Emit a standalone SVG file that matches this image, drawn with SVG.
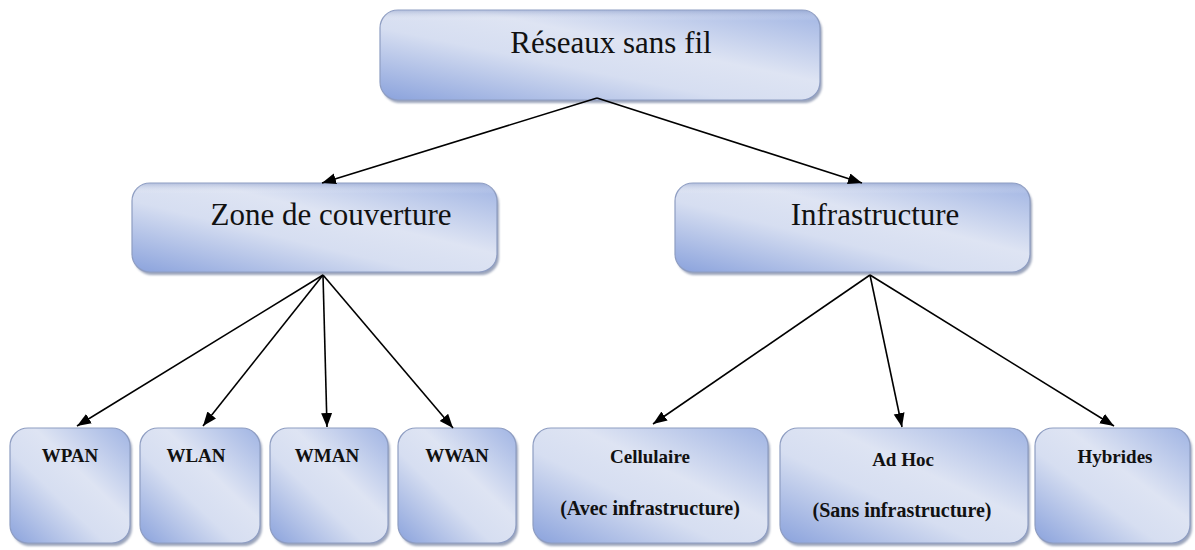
<svg xmlns="http://www.w3.org/2000/svg" width="1195" height="550" viewBox="0 0 1195 550">
  <defs>
    <linearGradient id="boxFill" x1="0" y1="1" x2="1" y2="0">
      <stop offset="0" stop-color="#8aa2dc"/>
      <stop offset="0.4" stop-color="#d6def1"/>
      <stop offset="0.6" stop-color="#dee4f3"/>
      <stop offset="1" stop-color="#a0b4e3"/>
    </linearGradient>
    <linearGradient id="topSheen" x1="0" y1="0" x2="0" y2="1">
      <stop offset="0" stop-color="#8f9fc8" stop-opacity="0.55"/>
      <stop offset="0.12" stop-color="#ffffff" stop-opacity="0"/>
      <stop offset="1" stop-color="#ffffff" stop-opacity="0"/>
    </linearGradient>
    <filter id="soft" x="-10%" y="-10%" width="120%" height="130%">
      <feGaussianBlur stdDeviation="1.3"/>
    </filter>
    <marker id="arrow" markerUnits="userSpaceOnUse" markerWidth="16" markerHeight="13" refX="14" refY="5.5" orient="auto">
      <path d="M0,0 L14,5.5 L0,11 Z" fill="#000"/>
    </marker>
    <style>
      .shadow { fill: #7c88a6; opacity: 0.75; filter: url(#soft); }
      .box { fill: url(#boxFill); stroke: #8e9dc2; stroke-width: 1.2; }
      .sheen { fill: url(#topSheen); stroke: none; }
      .big { font-family: "Liberation Serif", "Times New Roman", serif; font-size: 31px; fill: #111; text-anchor: middle; }
      .small { font-family: "Liberation Serif", "Times New Roman", serif; font-size: 19px; font-weight: bold; fill: #111; text-anchor: middle; }
      .sub { font-size: 20px; }
      .link { stroke: #000; stroke-width: 1.6; fill: none; marker-end: url(#arrow); }
    </style>
  </defs>

  <rect width="1195" height="550" fill="#fff"/>

  <!-- root -->
  <g id="reseaux">
    <rect class="shadow" x="382" y="13" width="440" height="90" rx="18"/>
    <rect class="box" x="380" y="10" width="440" height="90" rx="18"/>
    <rect class="sheen" x="380" y="10" width="440" height="90" rx="18"/>
    <text class="big" x="611" y="53">Réseaux sans fil</text>
  </g>

  <!-- second level -->
  <g id="zone">
    <rect class="shadow" x="134" y="186" width="365" height="89" rx="18"/>
    <rect class="box" x="132" y="183" width="365" height="89" rx="18"/>
    <rect class="sheen" x="132" y="183" width="365" height="89" rx="18"/>
    <text class="big" x="331" y="225">Zone de couverture</text>
  </g>
  <g id="infrastructure">
    <rect class="shadow" x="677" y="186" width="355" height="89" rx="18"/>
    <rect class="box" x="675" y="183" width="355" height="89" rx="18"/>
    <rect class="sheen" x="675" y="183" width="355" height="89" rx="18"/>
    <text class="big" x="875" y="225">Infrastructure</text>
  </g>

  <!-- coverage leaves -->
  <g id="wpan">
    <rect class="shadow" x="12" y="431" width="120" height="115" rx="18"/>
    <rect class="box" x="10" y="428" width="120" height="115" rx="18"/>
    <text class="small" x="70" y="462">WPAN</text>
  </g>
  <g id="wlan">
    <rect class="shadow" x="142" y="431" width="120" height="115" rx="18"/>
    <rect class="box" x="140" y="428" width="120" height="115" rx="18"/>
    <text class="small" x="196" y="462">WLAN</text>
  </g>
  <g id="wman">
    <rect class="shadow" x="272" y="431" width="118" height="115" rx="18"/>
    <rect class="box" x="270" y="428" width="118" height="115" rx="18"/>
    <text class="small" x="327" y="462">WMAN</text>
  </g>
  <g id="wwan">
    <rect class="shadow" x="400" y="431" width="118" height="115" rx="18"/>
    <rect class="box" x="398" y="428" width="118" height="115" rx="18"/>
    <text class="small" x="457" y="462">WWAN</text>
  </g>

  <!-- infrastructure leaves -->
  <g id="cellulaire">
    <rect class="shadow" x="535" y="431" width="235" height="115" rx="18"/>
    <rect class="box" x="533" y="428" width="235" height="115" rx="18"/>
    <text class="small" x="650" y="463">Cellulaire</text>
    <text class="small sub" x="650" y="515">(Avec infrastructure)</text>
  </g>
  <g id="adhoc">
    <rect class="shadow" x="782" y="431" width="248" height="115" rx="18"/>
    <rect class="box" x="780" y="428" width="248" height="115" rx="18"/>
    <text class="small" x="903" y="466">Ad Hoc</text>
    <text class="small sub" x="902" y="517">(Sans infrastructure)</text>
  </g>
  <g id="hybrides">
    <rect class="shadow" x="1037" y="431" width="155" height="115" rx="18"/>
    <rect class="box" x="1035" y="428" width="155" height="115" rx="18"/>
    <text class="small" x="1115" y="463">Hybrides</text>
  </g>

  <!-- connectors -->
  <g id="connectors">
    <line class="link" x1="597" y1="98" x2="322" y2="183"/>
    <line class="link" x1="597" y1="98" x2="862" y2="183"/>
    <line class="link" x1="323" y1="275" x2="77" y2="426"/>
    <line class="link" x1="323" y1="275" x2="203" y2="426"/>
    <line class="link" x1="323" y1="275" x2="327" y2="427"/>
    <line class="link" x1="323" y1="275" x2="453" y2="428"/>
    <line class="link" x1="870" y1="275" x2="653" y2="424"/>
    <line class="link" x1="870" y1="275" x2="902" y2="427"/>
    <line class="link" x1="870" y1="275" x2="1114" y2="426"/>
  </g>
</svg>
